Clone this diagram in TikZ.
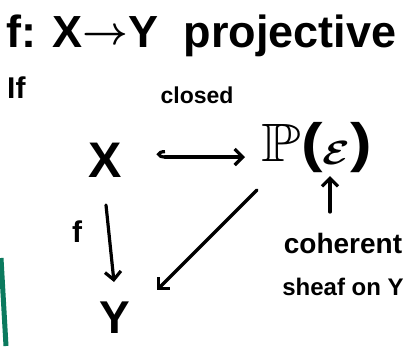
\documentclass[tikz,border=0pt]{standalone}
\usepackage{amsmath,amssymb}
\usepackage{fontspec}
\setmainfont{Liberation Sans}
\usetikzlibrary{arrows.meta}
\definecolor{penink}{HTML}{000000}
\definecolor{greenmark}{HTML}{0B7A5E}
\tikzset{
  hand/.style={font=\bfseries, text=penink, inner sep=0pt},
  stroke/.style={line width=3.2pt, draw=penink, line cap=round, line join=round},
  arr/.style={stroke, -{Straight Barb[length=8pt,width=16pt,line width=3.2pt]}},
}
\begin{document}
\begin{tikzpicture}[x=1pt,y=-1pt]
\useasboundingbox (0,0) rectangle (413,346);
\fill[white] (0,0) rectangle (413,346);
% green mark at left edge
\coordinate (g1) at (1,258);
\coordinate (g2) at (6,346);
\draw[greenmark, line width=5pt] (g1) -- (g2);
% texts
\node[hand, anchor=west, font=\bfseries\fontsize{45}{47}\selectfont] (title) at (6,36) {f: X\raisebox{0.06em}{\scalebox{1.6}{$\boldsymbol{\to}$}}Y \ projective};
\node[hand, anchor=west, font=\bfseries\fontsize{30}{32}\selectfont] (if) at (7,88) {If};
\node[hand, font=\bfseries\fontsize{23}{25}\selectfont] (closed) at (197,95) {closed};
\node[hand, font=\bfseries\fontsize{50}{52}\selectfont] (X) at (105,160) {X};
\node[hand, font=\bfseries\fontsize{54}{56}\selectfont] (P) at (317,148) {\scalebox{1.2}[1]{$\mathbb{P}$(\raisebox{-0.05em}{\scalebox{1.35}{$\boldsymbol{\mathcal{E}}$}})}};
\node[hand, font=\bfseries\fontsize{28}{30}\selectfont] (coh) at (343,243) {coherent};
\node[hand, font=\bfseries\fontsize{24}{26}\selectfont] (sheaf) at (343,287) {sheaf on Y};
\node[hand, font=\bfseries\fontsize{30}{32}\selectfont] (flab) at (77,232) {f};
\node[hand, font=\bfseries\fontsize{46}{48}\selectfont] (Y) at (115,318) {Y};
% connectors
\coordinate (h1) at (157,157);
\coordinate (h2) at (245,157);
\draw[stroke, {Hooks[right,length=8pt,width=14pt,line width=3.2pt]}-{Straight Barb[length=8pt,width=16pt,line width=3.2pt]}] (h1) -- (h2);
\coordinate (u1) at (330,212);
\coordinate (u2) at (330,176);
\draw[arr] (u1) -- (u2);
\coordinate (d1) at (257,190);
\coordinate (d2) at (157,290);
\draw[arr] (d1) -- (d2);
\coordinate (v1) at (106,205);
\coordinate (v2) at (114,282);
\draw[arr] (v1) -- (v2);
\end{tikzpicture}
\end{document}
